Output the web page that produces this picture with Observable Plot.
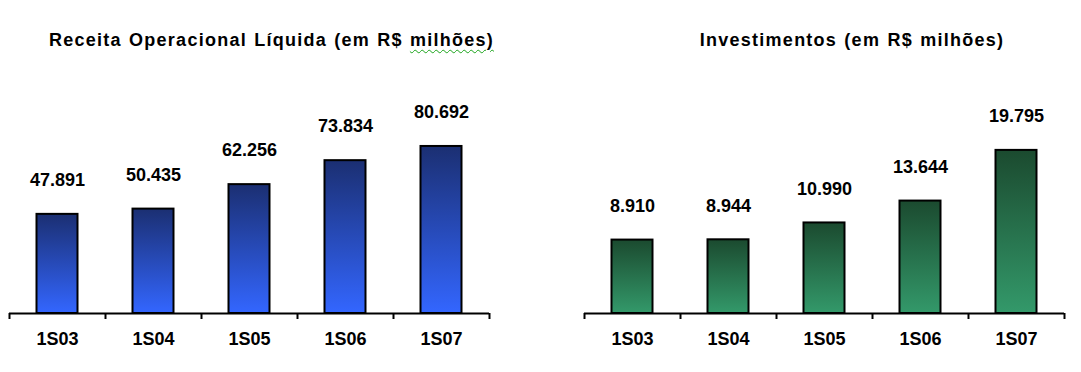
<!DOCTYPE html>
<html>
<head>
<meta charset="utf-8">
<script src="https://cdn.jsdelivr.net/npm/d3@7"></script>
<script src="https://cdn.jsdelivr.net/npm/@observablehq/plot@0.6"></script>
<style>
  html, body { margin: 0; padding: 0; background: #ffffff; }
  #wrap { position: relative; width: 1081px; height: 372px; overflow: hidden; font-family: Arial, "Liberation Sans", sans-serif; }
  .panel { position: absolute; top: 0; height: 372px; }
  .title { position: absolute; top: 31px; line-height: 18px; font-size: 18px; font-weight: bold; color: #000; white-space: nowrap; transform: translateX(-50%); letter-spacing: 1.25px; word-spacing: 1px; }
  .spell { text-decoration: underline wavy #1aa31a; text-decoration-thickness: 1px; text-underline-offset: 3px; }
  .chart { position: absolute; top: 60px; left: 0; }
</style>
</head>
<body>
<div id="wrap">
  <div class="title" style="left:271.5px">Receita Operacional Líquida (em R$ <span class="spell">milhões)</span></div>
  <div class="title" style="left:852px">Investimentos (em R$ milhões)</div>
  <div class="panel" id="left" style="left:0; width:540px"></div>
  <div class="panel" id="right" style="left:540px; width:541px"></div>
</div>
<script>
// ---- data ----
const categories = ["1S03", "1S04", "1S05", "1S06", "1S07"];
const receita = [47891, 50435, 62256, 73834, 80692];
const investimentos = [8910, 8944, 10990, 13644, 19795];

const ptBR = d3.formatLocale({decimal: ",", thousands: ".", grouping: [3], currency: ["R$", ""]});
const fmt = ptBR.format(",d");

function makeChart({values, yMax, width, marginTop, marginLeft, marginRight, gradId, top, bottom}) {
  const data = values.map((v, i) => ({i, cat: categories[i], value: v}));
  const svg = Plot.plot({
    width,
    height: 312,
    marginTop,
    marginBottom: 59,
    marginLeft,
    marginRight,
    x: {type: "linear", domain: [0, categories.length], axis: null},
    y: {domain: [0, yMax], axis: null},
    style: {fontFamily: 'Arial, "Liberation Sans", sans-serif', color: "#000", background: "transparent", overflow: "visible"},
    marks: [
      Plot.rectY(data, {
        x1: d => d.i, x2: d => d.i + 1, y1: 0, y2: "value",
        insetLeft: 27.5, insetRight: 27.5,
        fill: `url(#${gradId})`, stroke: "#000", strokeWidth: 2
      }),
      Plot.ruleY([0], {stroke: "#000", strokeWidth: 2}),
      Plot.axisX(d3.range(categories.length + 1), {
        tickSize: 6, tickFormat: () => "", stroke: "#000", strokeWidth: 2
      }),
      Plot.axisX(d3.range(categories.length).map(i => i + 0.5), {
        tickSize: 0, tickPadding: 19,
        tickFormat: v => categories[Math.floor(v)],
        fontSize: 18, fontWeight: "bold", fill: "#000"
      }),
      Plot.text(data, {
        x: d => d.i + 0.5, y: "value", dy: -34,
        text: d => fmt(d.value),
        fontSize: 18, fontWeight: "bold", fill: "#000"
      })
    ]
  });
  const defs = d3.select(svg).insert("defs", ":first-child");
  const g = defs.append("linearGradient").attr("id", gradId)
    .attr("x1", 0).attr("y1", 0).attr("x2", 0).attr("y2", 1);
  g.append("stop").attr("offset", "0%").attr("stop-color", top);
  g.append("stop").attr("offset", "100%").attr("stop-color", bottom);
  svg.classList.add("chart");
  return svg;
}

document.getElementById("left").appendChild(makeChart({
  values: receita, yMax: 100000, width: 540,
  marginTop: 46, marginLeft: 9, marginRight: 51,
  gradId: "gradBlue", top: "#1b2f72", bottom: "#3366ff"
}));

document.getElementById("right").appendChild(makeChart({
  values: investimentos, yMax: 25000, width: 541,
  marginTop: 47, marginLeft: 44, marginRight: 17,
  gradId: "gradGreen", top: "#1b4a2f", bottom: "#33996a"
}));
</script>
</body>
</html>
